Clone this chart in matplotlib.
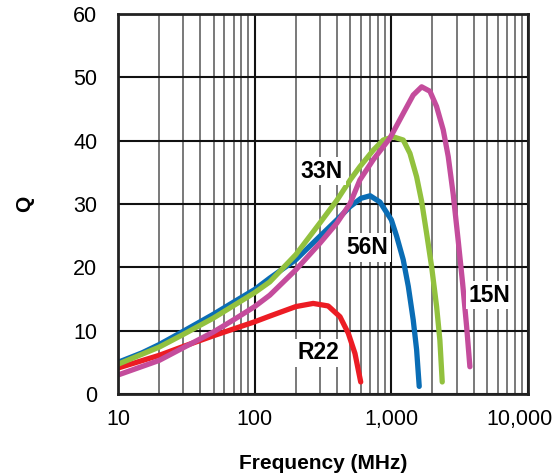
import numpy as np
import matplotlib.pyplot as plt
import matplotlib.transforms as mtransforms
from matplotlib.ticker import FixedLocator, LogLocator, NullFormatter

plt.rcParams['font.family'] = ['Liberation Sans', 'DejaVu Sans']

# Q vs frequency (MHz)
f_r22 = [10, 20, 30, 50, 100, 129, 200, 268, 345, 421, 484, 542, 597]
q_r22 = [4.1, 6.1, 7.5, 9.2, 11.4, 12.3, 13.8, 14.3, 13.9, 12.2, 9.6, 6.4, 1.9]

f_56n = [10, 15, 20, 30, 50, 70, 100, 129, 200, 300, 400, 500, 600, 700, 826,
         1000, 1094, 1222, 1331, 1446, 1531, 1600]
q_56n = [5.0, 6.5, 7.8, 9.9, 12.6, 14.5, 16.5, 18.3, 21.2, 24.9, 27.5, 29.6, 30.9, 31.3, 30.3,
         27.5, 24.9, 21.2, 17.0, 11.7, 7.0, 1.2]

f_33n = [10, 20, 30, 50, 100, 129, 200, 300, 400, 500, 589, 738, 873, 1033, 1222,
         1368, 1531, 1667, 1811, 1972, 2145, 2266, 2358]
q_33n = [4.7, 7.4, 9.4, 12.0, 16.0, 17.7, 22.0, 27.0, 30.6, 33.8, 35.9, 38.5, 40.1, 40.6, 40.1,
         38.0, 34.3, 30.4, 25.4, 20.1, 13.8, 8.5, 1.9]

f_15n = [10, 20, 30, 50, 70, 100, 129, 200, 300, 400, 500, 589, 738, 977, 1222, 1446,
         1667, 1916, 2143, 2398, 2608, 2838, 3083, 3324, 3558, 3758]
q_15n = [3.0, 5.3, 7.3, 9.8, 11.7, 13.8, 15.6, 19.6, 23.8, 27.0, 30.1, 33.8, 37.0, 40.4, 44.3, 47.2,
         48.5, 47.8, 45.4, 41.7, 37.5, 31.5, 24.3, 17.5, 10.6, 4.3]

x_ticks = [10, 100, 1000, 10000]
x_ticklabels = ['10', '100', '1,000', '10,000']

series = [
    ('R22', f_r22, q_r22, '#ec1c24', 295, 6.5),
    ('56N', f_56n, q_56n, '#0a6db5', 664, 23.1),
    ('33N', f_33n, q_33n, '#92c13e', 310, 35.2),
    ('15N', f_15n, q_15n, '#c44c9c', 5260, 15.6),
]

fig = plt.figure(figsize=(5.58, 4.74), dpi=100)
ax = fig.add_axes([0.2115, 0.1688, 0.7347, 0.8017])

ax.set_xscale('log')
ax.set_xlim(10, 10000)
ax.set_ylim(0, 60)

ax.xaxis.set_major_locator(FixedLocator(x_ticks))
ax.xaxis.set_minor_locator(LogLocator(base=10, subs=np.arange(2, 10)))
ax.xaxis.set_minor_formatter(NullFormatter())
ax.set_xticks(x_ticks)
ax.set_xticklabels(x_ticklabels)
ax.set_yticks(np.arange(0, 61, 10))

ax.grid(True, which='major', axis='both', color='#111111', lw=1.5)
ax.grid(True, which='minor', axis='x', color='#555555', lw=1.1)
ax.set_axisbelow(True)

ax.tick_params(which='both', length=0, labelsize=15.5, pad=11)
ax.tick_params(axis='y', pad=15)
for s in ax.spines.values():
    s.set_linewidth(2)
    s.set_color('#222222')

# keep the last tick label inside the figure
last = ax.get_xticklabels()[-1]
last.set_transform(last.get_transform() + mtransforms.ScaledTranslation(-6 / 72, 0, fig.dpi_scale_trans))

for name, f, q, c, lx, ly in series:
    ax.plot(f, q, color=c, lw=3.8, solid_capstyle='round', solid_joinstyle='round')
    ax.text(lx, ly, name, fontsize=16.5, fontweight='bold', ha='center', va='center',
            bbox=dict(facecolor='white', edgecolor='none', pad=2))

ax.set_xlabel('Frequency (MHz)', fontsize=15, fontweight='bold', labelpad=17)
ax.set_ylabel('Q', fontsize=15, fontweight='bold', labelpad=28)

fig.savefig('out.png', dpi=100)
